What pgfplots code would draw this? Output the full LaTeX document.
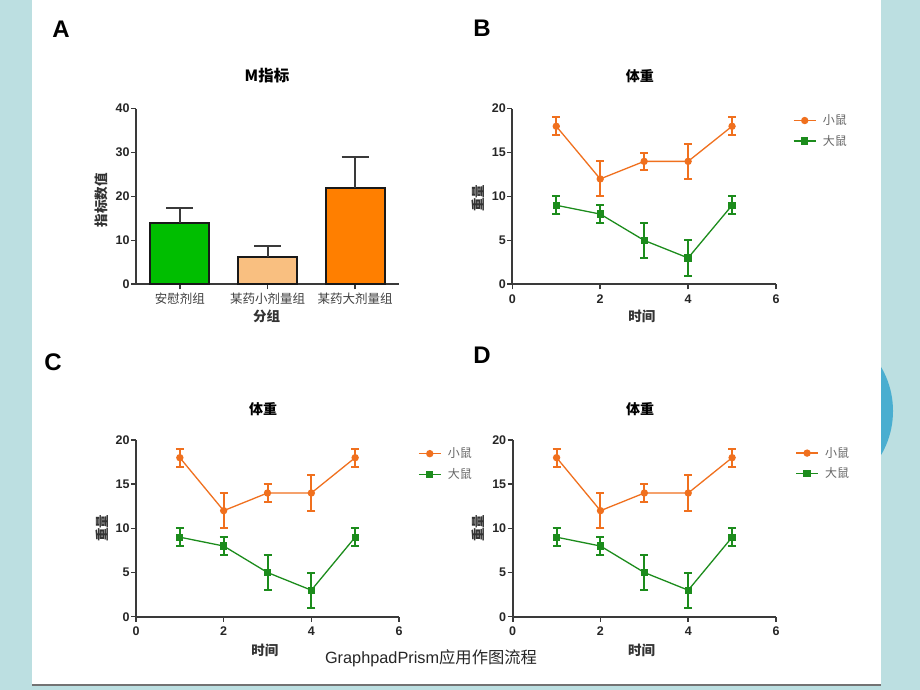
\documentclass[border=0pt]{standalone}
\usepackage{pgfplots}
\usepackage{pgfplotstable}
\pgfplotsset{compat=1.18}
\usepackage{fontspec}
\setmainfont{Liberation Sans}
\newfontfamily\cjk{Noto Sans CJK SC}
\definecolor{bgteal}{HTML}{BCDFE1}
\definecolor{circblue}{HTML}{4AAED0}
\definecolor{barG}{HTML}{00BE00}
\definecolor{barP}{HTML}{F9BF80}
\definecolor{barO}{HTML}{FF7F00}
\definecolor{lnO}{HTML}{F0701E}
\definecolor{lnG}{HTML}{1C8C1C}
\definecolor{axc}{HTML}{3A3A3A}

\pgfplotstableread{
x y e
1 18 1
2 12 2
3 14 1
4 14 2
5 18 1
}\mouse
\pgfplotstableread{
x y e
1 9 1
2 8 1
3 5 2
4 3 2
5 9 1
}\rat

\pgfplotsset{
  prism/.style={
    scale only axis, enlargelimits=false, clip=false,
    axis x line=bottom, axis y line=left,
    axis line style={-, line width=2pt, draw=axc},
    tick align=outside, major tick length=5pt,
    every tick/.style={line width=1.6pt, draw=axc},
    tick label style={font=\bfseries\fontsize{12.5}{13}\selectfont, text=black!85},
    yticklabel style={xshift=2pt},
    /pgf/number format/assume math mode=true,
    title style={font=\cjk\bfseries\fontsize{14}{14}\selectfont, anchor=center},
    xlabel style={font=\cjk\bfseries\fontsize{13.5}{14}\selectfont, anchor=center, text=black!80},
    ylabel style={font=\cjk\bfseries\fontsize{13.5}{14}\selectfont, anchor=center, text=black!80},
  },
  weight/.style={
    prism, xmin=0, xmax=6, ymin=0, ymax=20,
    xtick={0,2,4,6}, ytick={0,5,10,15,20},
    xticklabel style={yshift=-2pt},
    title={体重}, xlabel={时间}, ylabel={重量},
    legend cell align=left,
    legend style={draw=none, fill=none, inner sep=0pt, row sep=6pt, column sep=5pt,
      font=\cjk\fontsize{12}{12}\selectfont, text=black!60,
      nodes={inner sep=1.5pt}},
    legend image code/.code={\draw[##1, mark repeat=2, mark phase=2] plot coordinates {(0pt,0pt) (11pt,0pt) (22pt,0pt)};},
  },
  mouseplot/.style={color=lnO, line width=1.3pt, mark=*, mark size=3pt,
    /pgfplots/error bars/y dir=both, /pgfplots/error bars/y explicit,
    /pgfplots/error bars/error bar style={line width=2pt},
    /pgfplots/error bars/error mark options={rotate=90, mark size=4pt, line width=2pt}},
  ratplot/.style={color=lnG, line width=1.3pt, mark=square*, mark size=3pt,
    /pgfplots/error bars/y dir=both, /pgfplots/error bars/y explicit,
    /pgfplots/error bars/error bar style={line width=2pt},
    /pgfplots/error bars/error mark options={rotate=90, mark size=4pt, line width=2pt}},
  barA/.style={ybar, bar width=0.674, bar shift=0pt, draw=black!90, line width=2pt,
    /pgfplots/error bars/y dir=plus, /pgfplots/error bars/y explicit,
    /pgfplots/error bars/error bar style={line width=2pt, draw=axc},
    /pgfplots/error bars/error mark options={rotate=90, mark size=13.5pt, line width=2pt, draw=axc}},
}

\begin{document}
\begin{tikzpicture}
\clip (0pt,0pt) rectangle (920pt,690pt);
\fill[bgteal] (0pt,0pt) rectangle (920pt,690pt);
\fill[circblue] (806pt,279pt) circle (87pt);
\fill[white] (32pt,6pt) rectangle (881pt,690pt);
\draw[line width=2pt, black!55] (32pt,4.5pt) -- (881pt,4.5pt);

\node[font=\bfseries\fontsize{24}{24}\selectfont] at (61pt,661pt) {A};
\node[font=\bfseries\fontsize{24}{24}\selectfont] at (482pt,662pt) {B};
\node[font=\bfseries\fontsize{24}{24}\selectfont] at (53pt,328pt) {C};
\node[font=\bfseries\fontsize{24}{24}\selectfont] at (482pt,335pt) {D};
\node[font=\fontsize{16.3}{16}\selectfont, text=black!85] at (431pt,31.5pt) {GraphpadPrism{\cjk 应用作图流程}};

% Panel A
\begin{axis}[prism, at={(136pt,405.7pt)}, anchor=south west, width=263pt, height=175.6pt,
  xmin=-0.5, xmax=2.5, ymin=0, ymax=40,
  xtick={0,1,2}, xticklabels={安慰剂组,某药小剂量组,某药大剂量组},
  xticklabel style={font=\cjk\fontsize{12.5}{13}\selectfont, text=black!75},
  ytick={0,10,20,30,40},
  title={M指标}, title style={at={(axis description cs:0.498,1)}, yshift=27pt, font=\cjk\bfseries\fontsize{15.5}{16}\selectfont},
  xlabel={分组}, xlabel style={at={(axis description cs:0.497,-0.185)}},
  ylabel={指标数值}, ylabel style={at={(axis description cs:-0.13,0.48)}},
  ]
  \addplot[barA, fill=barG] coordinates {(0,14) +- (0,3.3)};
  \addplot[barA, fill=barP] coordinates {(1,6.3) +- (0,2.4)};
  \addplot[barA, fill=barO] coordinates {(2,22) +- (0,6.9)};
\end{axis}

% Panel B
\begin{axis}[weight, at={(512.3pt,405.7pt)}, anchor=south west, width=263.7pt, height=175.6pt,
  title style={at={(axis description cs:0.484,1)}, yshift=27pt},
  xlabel style={at={(axis description cs:0.491,-0.185)}},
  ylabel style={at={(axis description cs:-0.13,0.49)}},
  legend style={at={(axis description cs:1.064,0.975)}, anchor=north west},
  ]
  \addplot[mouseplot] table[x=x, y=y, y error=e] {\mouse};
  \addlegendentry{小鼠}
  \addplot[ratplot] table[x=x, y=y, y error=e] {\rat};
  \addlegendentry{大鼠}
\end{axis}

% Panel C
\begin{axis}[weight, at={(136pt,73.3pt)}, anchor=south west, width=263pt, height=176.7pt,
  title style={at={(axis description cs:0.483,1)}, yshift=25pt},
  xlabel style={at={(axis description cs:0.49,-0.188)}},
  ylabel style={at={(axis description cs:-0.13,0.5)}},
  legend style={at={(axis description cs:1.072,0.965)}, anchor=north west},
  ]
  \addplot[mouseplot] table[x=x, y=y, y error=e] {\mouse};
  \addlegendentry{小鼠}
  \addplot[ratplot] table[x=x, y=y, y error=e] {\rat};
  \addlegendentry{大鼠}
\end{axis}

% Panel D
\begin{axis}[weight, at={(512.7pt,73.3pt)}, anchor=south west, width=263.3pt, height=176.7pt,
  title style={at={(axis description cs:0.484,1)}, yshift=25pt},
  xlabel style={at={(axis description cs:0.49,-0.188)}},
  ylabel style={at={(axis description cs:-0.13,0.5)}},
  legend style={at={(axis description cs:1.073,0.968)}, anchor=north west},
  ]
  \addplot[mouseplot] table[x=x, y=y, y error=e] {\mouse};
  \addlegendentry{小鼠}
  \addplot[ratplot] table[x=x, y=y, y error=e] {\rat};
  \addlegendentry{大鼠}
\end{axis}
\end{tikzpicture}
\end{document}
